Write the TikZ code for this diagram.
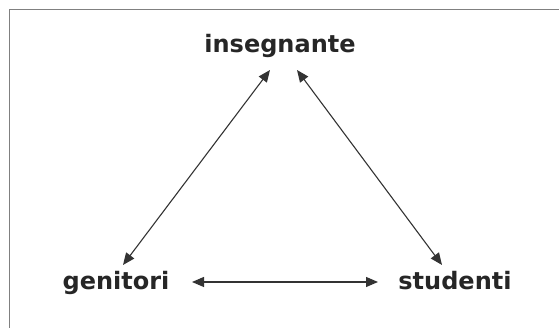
\documentclass[tikz,border=0pt]{standalone}
\usepackage{fontspec}
\setmainfont{DejaVu Sans}
\usetikzlibrary{arrows.meta}
\begin{document}
\begin{tikzpicture}[x=1pt,y=1pt,
  lbl/.style={font=\fontsize{24}{28}\selectfont\bfseries, text=black!85, inner sep=0pt, anchor=base},
  link/.style={draw=black!80, line width=1.1pt, {Triangle[length=12pt,width=10pt]}-{Triangle[length=12pt,width=10pt]}}]
\useasboundingbox (0,0) rectangle (559,328);
\draw[black!50, line width=1pt] (9,-10) -- (9,318) -- (570,318);
\node[lbl] (ins) at (280,275) {insegnante};
\node[lbl] (gen) at (116,38) {genitori};
\node[lbl] (stu) at (455,38) {studenti};
\coordinate (insL) at (270,258);
\coordinate (insR) at (297,258);
\coordinate (genT) at (123,63);
\coordinate (stuT) at (442,63);
\coordinate (genR) at (192,46);
\coordinate (stuL) at (378,46);
\draw[link] (insL) -- (genT);
\draw[link] (insR) -- (stuT);
\draw[link] (genR) -- (stuL);
\end{tikzpicture}
\end{document}
